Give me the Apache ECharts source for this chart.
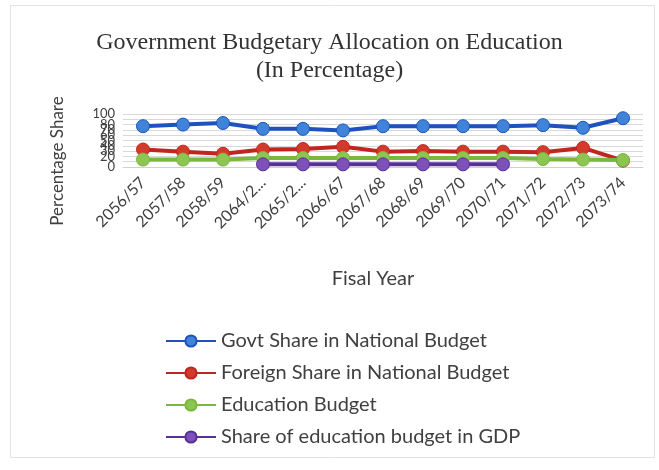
<!DOCTYPE html>
<html>
<head>
<meta charset="utf-8">
<script src="https://cdn.jsdelivr.net/npm/echarts@6/dist/echarts.min.js"></script>
<style>
  html, body { margin: 0; padding: 0; background: #fff; }
  #chart { width: 659px; height: 470px; }
</style>
</head>
<body>
<div id="chart"></div>
<script>
// fiscal years (as shown on the axis)
var years = ['2056/57', '2057/58', '2058/59', '2064/2...', '2065/2...', '2066/67',
             '2067/68', '2068/69', '2069/70', '2070/71', '2071/72', '2072/73', '2073/74'];

// values (percent)
var govtShare    = [77, 80, 83, 72, 72, 69, 77, 77, 77, 77, 79, 74, 92];
var foreignShare = [33, 29, 25, 33, 34, 38, 29, 30, 29, 29, 28, 36, 12];
var eduBudget    = [14, 14, 14, 17, 17, 17, 17, 17, 17, 17, 15, 14, 13];
var eduInGdp     = [null, null, null, 5, 5, 5, 5, 5, 5, 5, null, null, null];

var seriesNames = [
  'Govt Share in National Budget',
  'Foreign Share in National Budget',
  'Education Budget',
  'Share of education budget in GDP'
];

var myChart = echarts.init(document.getElementById('chart'));

function lineSeries(name, data, lineColor, markColor) {
  return {
    name: name,
    type: 'line',
    data: data,
    symbol: 'circle',
    symbolSize: 13,
    connectNulls: false,
    lineStyle: { color: lineColor, width: 4 },
    itemStyle: { color: markColor, borderColor: lineColor, borderWidth: 1 },
    emphasis: { disabled: true }
  };
}

var option = {
  animation: false,
  title: {
    text: 'Government Budgetary Allocation on Education\n(In Percentage)',
    left: 'center',
    top: 24,
    textStyle: {
      fontFamily: 'Liberation Serif',
      fontSize: 24,
      fontWeight: 'normal',
      color: '#333333',
      lineHeight: 28
    }
  },
  grid: {
    left: 123,
    right: 16,
    top: 114,
    height: 53
  },
  legend: {
    orient: 'vertical',
    left: 160,
    top: 326,
    itemWidth: 50,
    itemHeight: 14,
    itemGap: 12,
    data: seriesNames,
    textStyle: {
      fontFamily: 'Lato',
      fontSize: 20,
      color: '#404040'
    }
  },
  xAxis: {
    type: 'category',
    data: years,
    boundaryGap: true,
    name: 'Fisal Year',
    nameLocation: 'middle',
    nameGap: 102,
    nameTextStyle: {
      fontFamily: 'Lato',
      fontSize: 20,
      color: '#404040',
      padding: [0, 20, 0, 0]
    },
    axisLine: { show: true, lineStyle: { color: '#d0d0d0' } },
    axisTick: { show: false },
    axisLabel: {
      rotate: 45,
      interval: 0,
      margin: 13,
      fontFamily: 'Lato',
      fontSize: 16,
      color: '#404040'
    }
  },
  yAxis: {
    type: 'value',
    min: 0,
    max: 100,
    interval: 10,
    axisLine: { show: false },
    axisTick: { show: false },
    axisLabel: {
      fontFamily: 'Lato',
      fontSize: 13,
      color: '#404040',
      margin: 8,
      hideOverlap: false,
      showMinLabel: true,
      showMaxLabel: true
    },
    splitLine: { lineStyle: { color: '#d9d9d9', width: 1 } }
  },
  graphic: [
    {
      type: 'rect',
      shape: { x: 10.5, y: 5.5, width: 644, height: 452 },
      style: { fill: 'none', stroke: '#e3e3e3', lineWidth: 1 },
      silent: true
    },
    {
      type: 'text',
      x: 58,
      y: 161,
      rotation: Math.PI / 2,
      style: {
        text: 'Percentage Share',
        fontFamily: 'Lato',
        fontSize: 17,
        fill: '#404040',
        textAlign: 'center',
        textVerticalAlign: 'middle'
      }
    }
  ],
  series: [
    lineSeries(seriesNames[0], govtShare, '#1f52bd', '#3f84d8'),
    lineSeries(seriesNames[1], foreignShare, '#c0261f', '#d43a2c'),
    lineSeries(seriesNames[2], eduBudget, '#78b83e', '#8cc552'),
    lineSeries(seriesNames[3], eduInGdp, '#5a2f9a', '#7d52b8')
  ]
};

myChart.setOption(option);
</script>
</body>
</html>
